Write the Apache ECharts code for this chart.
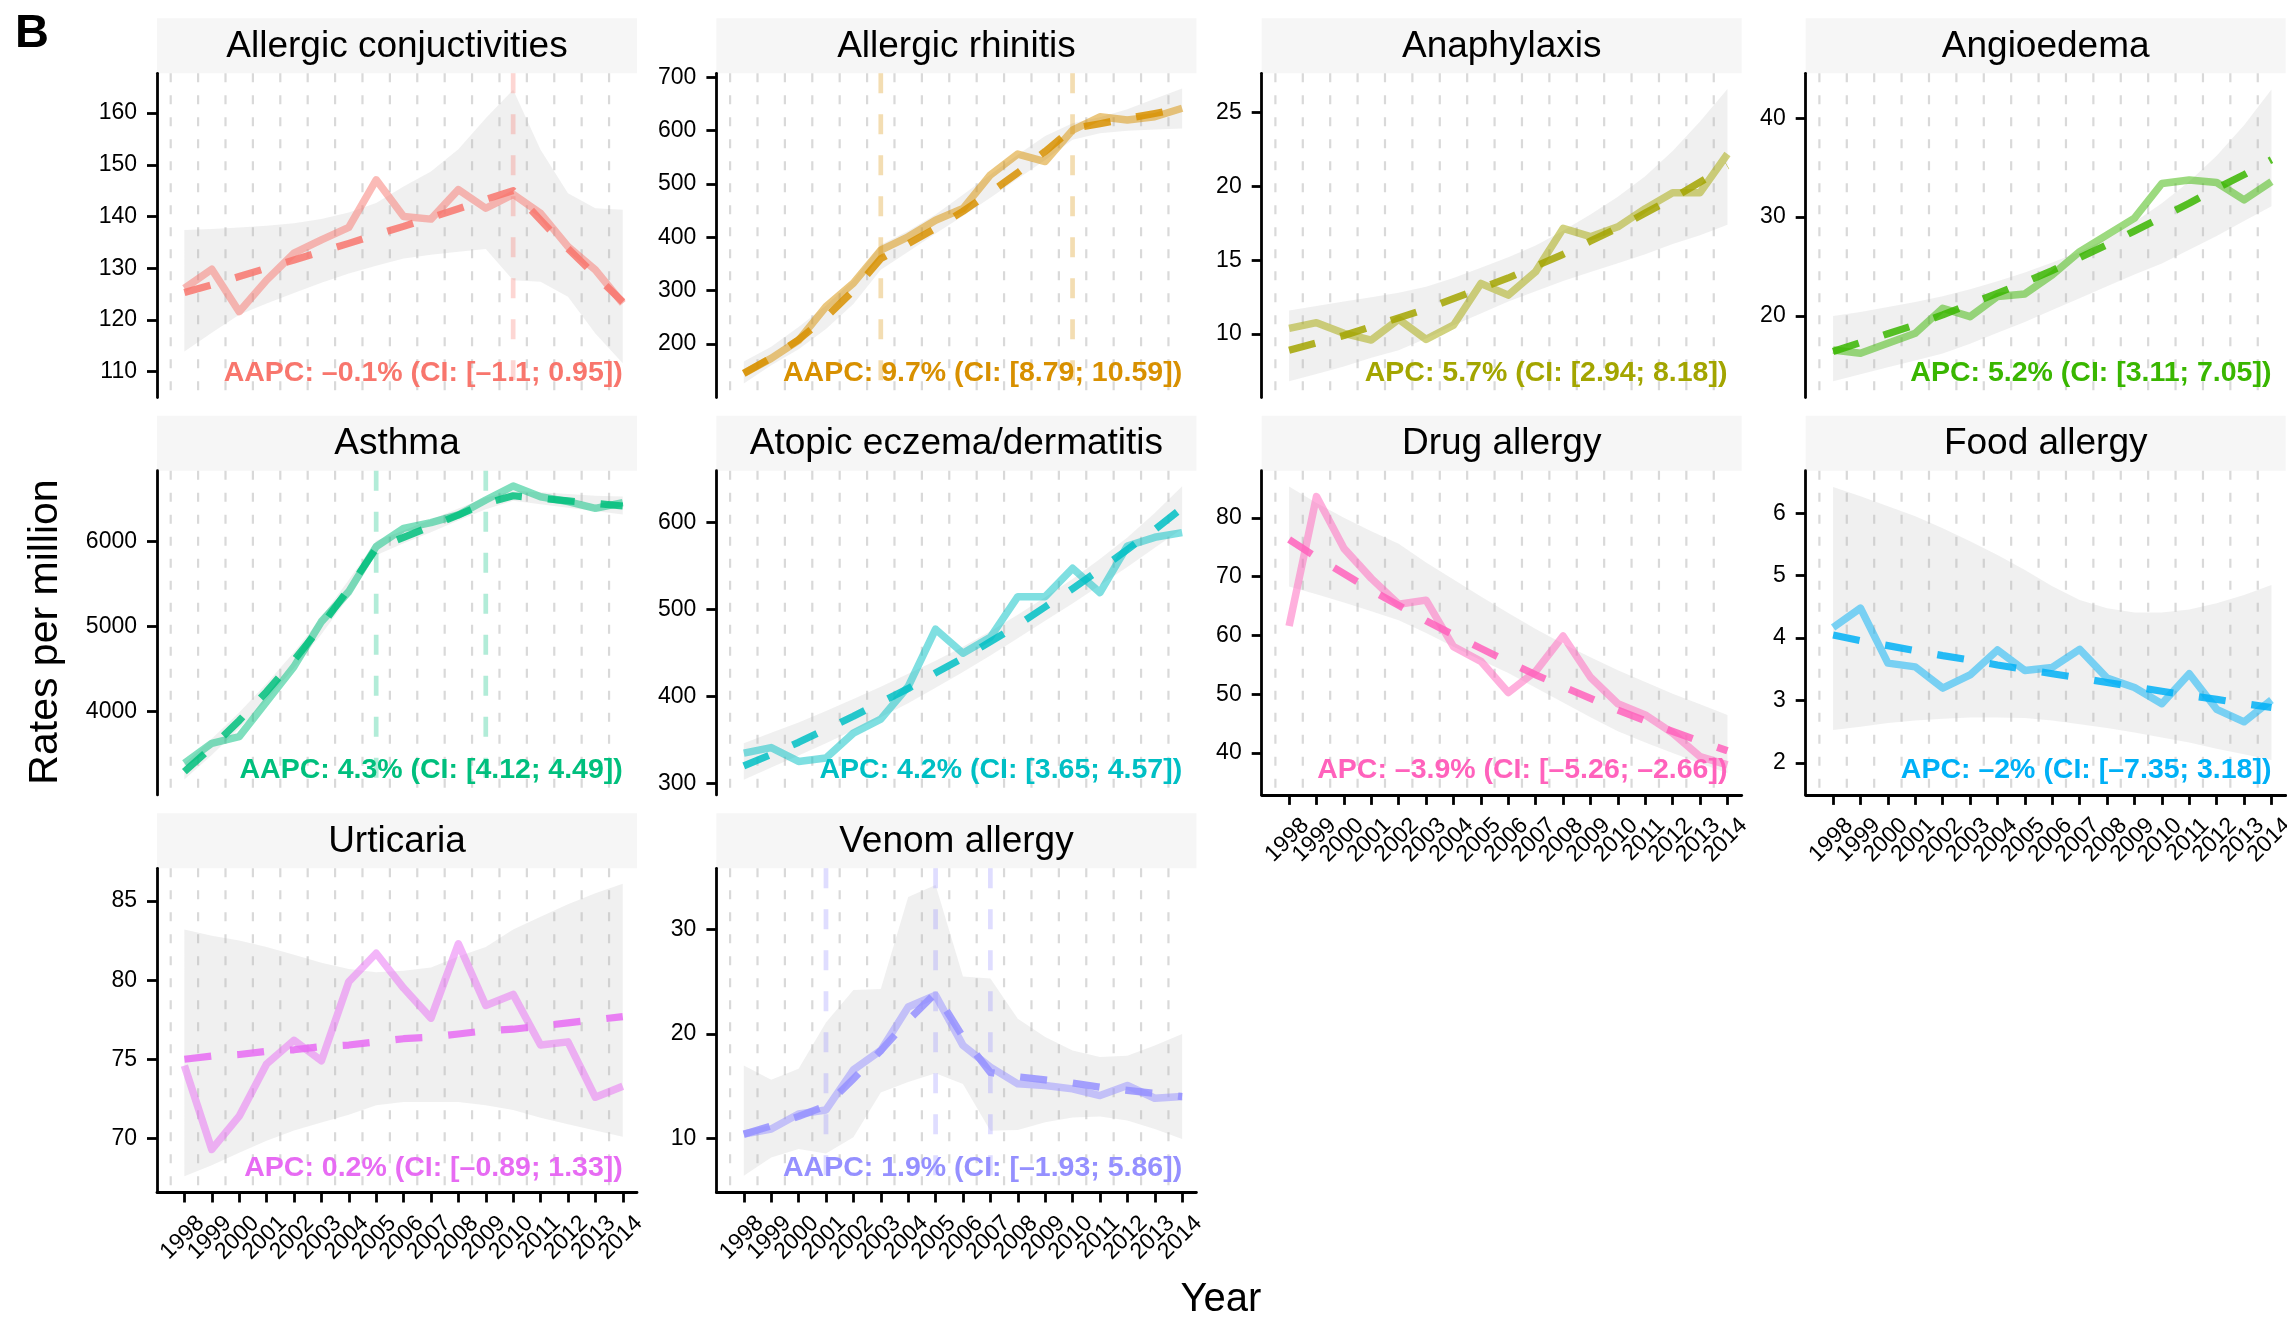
<!DOCTYPE html>
<html><head><meta charset="utf-8">
<script src="https://cdn.jsdelivr.net/npm/echarts@6/dist/echarts.min.js"></script>
<style>html,body{margin:0;padding:0;background:#fff}#c{width:2287px;height:1319px}</style>
</head><body><div id="c"></div>
<script>
// ---------- data ----------
const years = [1998,1999,2000,2001,2002,2003,2004,2005,2006,2007,2008,2009,2010,2011,2012,2013,2014];
const gridYears = [1997.5,1998.5,1999.5,2000.5,2001.5,2002.5,2003.5,2004.5,2005.5,2006.5,2007.5,2008.5,2009.5,2010.5,2011.5,2012.5,2013.5];

// Allergic conjuctivities
const acObs = [126.1,129.8,121.6,127.7,132.9,135.5,137.9,147.1,140.0,139.5,145.2,141.6,144.3,140.6,134.2,129.7,123.2];
const acTrend = [125.3,126.8,128.4,130.0,131.6,133.2,134.8,136.5,138.1,139.8,141.5,143.3,145.0,139.3,133.8,128.6,123.5];
const acLo = [113.9,117.5,121.0,123.2,125.2,127.2,129.0,130.5,131.9,132.6,133.2,133.7,127.7,127.4,124.5,117.4,111.6];
const acHi = [137.4,137.6,137.9,138.2,138.7,139.5,140.8,142.6,145.8,148.7,153.0,159.0,164.5,152.9,144.5,141.6,141.3];
const acJoin = [2010];
const acTicks = [110,120,130,140,150,160];
const acRange = [105.0,167.7];

// Allergic rhinitis
const arObs = [145,173,207,270,314,376,401,432,454,517,556,542,601,626,620,626,642];
const arTrend = [145,174,208,250,300,360,388,417,449,484,521,561,604,613,623,632,642];
const arLo = [126,160,190,228,275,339,373,407,440,474,510,545,583,595,600,602,604];
const arHi = [167,195,232,272,320,386,412,443,480,518,555,590,614,625,640,660,679];
const arJoin = [2003,2010];
const arTicks = [200,300,400,500,600,700];
const arRange = [99.7,707.5];

// Anaphylaxis
const anObs = [10.38,10.77,10.05,9.59,11.0,9.64,10.6,13.43,12.64,14.23,17.16,16.6,17.27,18.5,19.58,19.58,22.2];
const anTrend = [8.9,9.4,9.9,10.5,11.1,11.7,12.4,13.1,13.8,14.6,15.4,16.3,17.2,18.2,19.2,20.3,21.4];
const anLo = [6.8,7.3,7.8,8.4,8.9,9.7,10.6,11.4,12.2,12.9,13.6,14.2,14.8,15.4,16.1,16.7,17.4];
const anHi = [11.6,11.9,12.2,12.5,12.8,13.2,13.8,14.5,15.2,16.0,17.0,18.1,19.3,20.7,22.4,24.4,26.6];
const anTicks = [10,15,20,25];
const anRange = [5.7,27.67];

// Angioedema
const agObs = [16.56,16.22,17.23,18.25,20.78,19.93,21.96,22.23,24.15,26.5,28.2,29.9,33.4,33.76,33.5,31.74,33.6];
const agTrend = [16.4,17.3,18.2,19.1,20.1,21.2,22.3,23.4,24.6,25.9,27.2,28.6,30.0,31.4,32.9,34.3,35.8];
const agLo = [13.4,14.1,14.8,15.5,16.2,17.2,18.3,19.4,20.6,21.8,23.0,24.2,25.3,26.7,28.1,29.6,31.1];
const agHi = [20.0,20.4,20.9,21.4,22.0,22.7,23.5,24.4,25.4,26.5,27.8,29.5,31.4,33.6,36.2,39.3,42.9];
const agTicks = [20,30,40];
const agRange = [11.75,44.55];

// Asthma
const asObs = [3392,3627,3706,4118,4529,5059,5412,5941,6157,6224,6314,6490,6655,6529,6471,6392,6459];
const asTrend = [3294,3582,3895,4235,4605,5008,5446,5922,6050,6181,6314,6451,6540,6510,6480,6450,6420];
const asLo = [3200,3490,3800,4140,4510,4910,5350,5840,5980,6110,6250,6380,6480,6440,6400,6360,6320];
const asHi = [3390,3680,3990,4330,4700,5110,5550,6010,6130,6260,6390,6520,6600,6580,6560,6540,6530];
const asJoin = [2005,2009];
const asTicks = [4000,5000,6000];
const asRange = [3020,6835];

// Atopic eczema/dermatitis
const atObs = [334.6,341,325,329,357.6,373.7,411.3,477.3,449.6,468,514.8,514.8,547.4,519.4,573.1,583.1,588.5];
const atTrend = [320,333,347,362,377,393,409,427,444,463,482,503,524,546,569,592,617];
const atLo = [304,318,332,346,361,376,392,410,428,447,467,487,507,528,549,571,593];
const atHi = [346,358,370,383,397,411,426,441,457,475,494,514,535,558,583,611,642];
const atTicks = [300,400,500,600];
const atRange = [286.5,659.8];

// Drug allergy
const drObs = [61.6,83.6,74.8,69.7,65.3,66.0,58.1,55.6,50.3,53.9,59.9,52.9,48.4,46.5,43.4,39.4,38.0];
const drTrend = [76.3,73.3,70.5,67.7,65.1,62.5,60.1,57.8,55.5,53.3,51.3,49.3,47.3,45.5,43.7,42.0,40.4];
const drLo = [68.3,67.0,65.6,64.1,62.6,60.4,58.1,55.8,53.6,51.1,48.6,46.1,43.7,41.8,40.0,38.3,36.6];
const drHi = [85.3,82.5,80.0,77.7,75.6,72.4,69.5,66.6,63.8,61.1,58.6,56.3,54.1,52.1,50.1,48.3,46.5];
const drTicks = [40,50,60,70,80];
const drRange = [32.9,88.0];

// Food allergy
const fdObs = [4.17,4.48,3.60,3.54,3.20,3.41,3.81,3.48,3.53,3.82,3.36,3.21,2.95,3.43,2.86,2.66,3.01];
const fdTrend = [4.05,3.96,3.88,3.80,3.72,3.65,3.57,3.50,3.43,3.36,3.29,3.22,3.15,3.08,3.02,2.95,2.89];
const fdLo = [2.53,2.58,2.64,2.68,2.71,2.73,2.73,2.72,2.68,2.62,2.56,2.49,2.41,2.33,2.23,2.14,2.05];
const fdHi = [6.42,6.27,6.11,5.95,5.76,5.55,5.33,5.09,4.83,4.61,4.48,4.41,4.41,4.46,4.56,4.69,4.85];
const fdTicks = [2,3,4,5,6];
const fdRange = [1.49,6.68];

// Urticaria
const urObs = [74.6,69.3,71.4,74.7,76.2,74.9,79.9,81.7,79.5,77.6,82.3,78.4,79.1,75.9,76.1,72.6,73.3];
const urTrend = [75.0,75.2,75.3,75.5,75.6,75.8,75.9,76.1,76.3,76.4,76.6,76.8,76.9,77.1,77.3,77.5,77.7];
const urLo = [67.6,68.3,69.1,69.85,70.5,71.0,71.5,72.1,72.3,72.3,72.3,72.1,71.8,71.3,70.9,70.5,70.1];
const urHi = [83.2,82.8,82.5,82.1,81.6,81.1,80.7,80.5,80.6,80.8,81.5,82.1,83.2,84.0,84.8,85.5,86.1];
const urTicks = [70,75,80,85];
const urRange = [66.58,87.07];

// Venom allergy
const vnObs = [10.42,10.9,12.34,12.72,16.56,18.42,22.58,23.7,18.9,16.82,15.22,15.06,14.74,14.1,15.06,13.84,14.0];
const vnTrend = [10.4,11.2,12.1,13.1,15.7,18.4,21.3,23.9,19.7,16.3,15.9,15.6,15.3,14.9,14.6,14.3,14.0];
const vnLo = [6.42,8.18,8.98,8.56,10.1,14.4,15.4,16.24,15.2,10.74,10.8,11.54,12.0,12.1,11.7,10.9,9.94];
const vnHi = [16.98,15.6,16.66,21.1,24.2,24.3,33.1,34.26,25.5,25.3,21.46,19.7,18.4,17.8,17.9,18.9,20.0];
const vnJoin = [2001,2005,2007];
const vnTicks = [10,20,30];
const vnRange = [4.82,35.85];

const titles = ['Allergic conjuctivities','Allergic rhinitis','Anaphylaxis','Angioedema','Asthma','Atopic eczema/dermatitis','Drug allergy','Food allergy','Urticaria','Venom allergy'];
const notes = [
  'AAPC: –0.1% (CI: [–1.1; 0.95])',
  'AAPC: 9.7% (CI: [8.79; 10.59])',
  'APC: 5.7% (CI: [2.94; 8.18])',
  'APC: 5.2% (CI: [3.11; 7.05])',
  'AAPC: 4.3% (CI: [4.12; 4.49])',
  'APC: 4.2% (CI: [3.65; 4.57])',
  'APC: –3.9% (CI: [–5.26; –2.66])',
  'APC: –2% (CI: [–7.35; 3.18])',
  'APC: 0.2% (CI: [–0.89; 1.33])',
  'AAPC: 1.9% (CI: [–1.93; 5.86])'
];
const colors = ['#F8766D','#D89000','#A3A500','#39B600','#00BF7D','#00BFC4','#FF62BC','#00B0F6','#E76BF3','#9590FF'];

// ---------- layout ----------
const FONT = '"Liberation Sans", Arial, Helvetica, sans-serif';
const COL_LEFT = [157, 716.4, 1261.7, 1805.7];
const ROW_TOP = [73.3, 470.7, 868.3];
const PW = 480, PH = 324.2, STRIP_H = 55;
const XMIN = 1997, XMAX = 2014.52;

const panels = [
  {obs:acObs, trend:acTrend, lo:acLo, hi:acHi, join:acJoin, ticks:acTicks, range:acRange, col:0, row:0, xax:false},
  {obs:arObs, trend:arTrend, lo:arLo, hi:arHi, join:arJoin, ticks:arTicks, range:arRange, col:1, row:0, xax:false},
  {obs:anObs, trend:anTrend, lo:anLo, hi:anHi, join:[], ticks:anTicks, range:anRange, col:2, row:0, xax:false},
  {obs:agObs, trend:agTrend, lo:agLo, hi:agHi, join:[], ticks:agTicks, range:agRange, col:3, row:0, xax:false},
  {obs:asObs, trend:asTrend, lo:asLo, hi:asHi, join:asJoin, ticks:asTicks, range:asRange, col:0, row:1, xax:false},
  {obs:atObs, trend:atTrend, lo:atLo, hi:atHi, join:[], ticks:atTicks, range:atRange, col:1, row:1, xax:false},
  {obs:drObs, trend:drTrend, lo:drLo, hi:drHi, join:[], ticks:drTicks, range:drRange, col:2, row:1, xax:true},
  {obs:fdObs, trend:fdTrend, lo:fdLo, hi:fdHi, join:[], ticks:fdTicks, range:fdRange, col:3, row:1, xax:true},
  {obs:urObs, trend:urTrend, lo:urLo, hi:urHi, join:[], ticks:urTicks, range:urRange, col:0, row:2, xax:true},
  {obs:vnObs, trend:vnTrend, lo:vnLo, hi:vnHi, join:vnJoin, ticks:vnTicks, range:vnRange, col:1, row:2, xax:true}
];

function hexA(hex, a) {
  const n = parseInt(hex.slice(1), 16);
  return 'rgba(' + ((n >> 16) & 255) + ',' + ((n >> 8) & 255) + ',' + (n & 255) + ',' + a + ')';
}
function vlineRender(stroke, width, dash) {
  return function (params, api) {
    const cs = params.coordSys;
    const pt = api.coord([api.value(0), api.value(1)]);
    return {type: 'line', silent: true,
      shape: {x1: pt[0], y1: cs.y, x2: pt[0], y2: cs.y + cs.height},
      style: {stroke: stroke, lineWidth: width, lineDash: dash, fill: null}};
  };
}
function ribbonRender(lo, hi) {
  return function (params, api) {
    if (params.dataIndex !== 0) return null;
    const pts = [];
    for (let k = 0; k < years.length; k++) pts.push(api.coord([years[k], hi[k]]));
    for (let k = years.length - 1; k >= 0; k--) pts.push(api.coord([years[k], lo[k]]));
    return {type: 'polygon', silent: true, shape: {points: pts}, style: {fill: 'rgba(179,179,179,0.2)'}};
  };
}
// rotated year labels under the x axis, placed with the axis scale
function yearLabelRender(params, api) {
  const cs = params.coordSys;
  const pt = api.coord([api.value(0), api.value(1)]);
  return {type: 'text', silent: true, x: pt[0] + 8, y: cs.y + cs.height + 19, rotation: Math.PI / 4,
    style: {text: String(api.value(0)), fontSize: 23, fontFamily: FONT, fill: '#000', align: 'right', verticalAlign: 'top'}};
}
const plain = function (v) { return String(v); };

const grids = [], xAxes = [], yAxes = [], series = [], graphics = [];
const axisLineStyle = {color: '#000', width: 2.8};

panels.forEach(function (p, i) {
  const left = COL_LEFT[p.col], top = ROW_TOP[p.row];
  const color = colors[i];
  grids.push({left: left, top: top, width: PW, height: PH, containLabel: false, outerBoundsMode: 'none'});
  xAxes.push({
    gridIndex: i, type: 'value', min: XMIN, max: XMAX,
    splitLine: {show: false},
    axisLine: {show: p.xax, onZero: false, lineStyle: axisLineStyle},
    axisTick: {show: p.xax, customValues: years, length: 10, lineStyle: axisLineStyle},
    axisLabel: {show: false}
  });
  yAxes.push({
    gridIndex: i, type: 'value', min: p.range[0], max: p.range[1],
    splitLine: {show: false},
    axisLine: {show: true, onZero: false, lineStyle: axisLineStyle},
    axisTick: {show: true, customValues: p.ticks, length: 10, lineStyle: axisLineStyle},
    axisLabel: {show: true, customValues: p.ticks, formatter: plain, fontSize: 23, fontFamily: FONT, color: '#000', margin: 20,
      showMinLabel: true, showMaxLabel: true}
  });
  // gridlines
  series.push({type: 'custom', xAxisIndex: i, yAxisIndex: i, z: 1, silent: true,
    data: gridYears.map(function (v) { return [v, p.range[0]]; }), encode: {x: 0, y: 1},
    renderItem: vlineRender('#D9D9D9', 2.2, [9, 13])});
  // CI ribbon
  series.push({type: 'custom', xAxisIndex: i, yAxisIndex: i, z: 2, silent: true,
    data: years.map(function (y, k) { return [y, p.lo[k], p.hi[k]]; }), encode: {x: 0, y: [1, 2]},
    renderItem: ribbonRender(p.lo, p.hi)});
  // joinpoint lines
  if (p.join.length) {
    series.push({type: 'custom', xAxisIndex: i, yAxisIndex: i, z: 3, silent: true,
      data: p.join.map(function (v) { return [v, p.range[0]]; }), encode: {x: 0, y: 1},
      renderItem: vlineRender(hexA(color, 0.3), 4.7, [20, 21])});
  }
  // observed
  series.push({type: 'line', xAxisIndex: i, yAxisIndex: i, z: 4, silent: true,
    data: years.map(function (y, k) { return [y, p.obs[k]]; }),
    symbol: 'none', showSymbol: false,
    lineStyle: {color: color, width: 7.5, opacity: 0.5, join: 'round', cap: 'butt'}});
  // trend
  series.push({type: 'line', xAxisIndex: i, yAxisIndex: i, z: 5, silent: true,
    data: years.map(function (y, k) { return [y, p.trend[k]]; }),
    symbol: 'none', showSymbol: false,
    lineStyle: {color: color, width: 7.2, opacity: 0.85, type: [27, 26], join: 'round', cap: 'butt'}});
  // x labels
  if (p.xax) {
    series.push({type: 'custom', xAxisIndex: i, yAxisIndex: i, z: 6, silent: true, clip: false,
      data: years.map(function (y) { return [y, p.range[0]]; }), encode: {x: 0, y: 1},
      renderItem: yearLabelRender});
  }
  // strip
  graphics.push({type: 'rect', silent: true, shape: {x: left, y: top - STRIP_H, width: PW, height: STRIP_H},
    style: {fill: '#F6F6F6'}, z: 0});
  graphics.push({type: 'text', silent: true, x: left + PW / 2, y: top - STRIP_H / 2 + 1,
    style: {text: titles[i], fontSize: 37, fontFamily: FONT, fill: '#000', align: 'center', verticalAlign: 'middle'}});
  // annotation (right-aligned at the 2014 position)
  graphics.push({type: 'text', silent: true, x: left + (2014 - XMIN) / (XMAX - XMIN) * PW, y: top + PH - 24.5,
    style: {text: notes[i], fontSize: 28.5, fontWeight: 'bold', fontFamily: FONT, fill: color, align: 'right', verticalAlign: 'middle'}, z: 100});
});

graphics.push({type: 'text', silent: true, x: 15, y: 34,
  style: {text: 'B', fontSize: 47, fontWeight: 'bold', fontFamily: FONT, fill: '#000', align: 'left', verticalAlign: 'middle'}});
graphics.push({type: 'text', silent: true, x: 46, y: 632, rotation: Math.PI / 2,
  style: {text: 'Rates per million', fontSize: 41, fontFamily: FONT, fill: '#000', align: 'center', verticalAlign: 'middle'}});
graphics.push({type: 'text', silent: true, x: 1221, y: 1300,
  style: {text: 'Year', fontSize: 40, fontFamily: FONT, fill: '#000', align: 'center', verticalAlign: 'middle'}});

const chart = echarts.init(document.getElementById('c'), null, {renderer: 'canvas'});
chart.setOption({
  animation: false,
  backgroundColor: '#fff',
  grid: grids,
  xAxis: xAxes,
  yAxis: yAxes,
  series: series,
  graphic: {elements: graphics}
});
</script>
</body></html>
